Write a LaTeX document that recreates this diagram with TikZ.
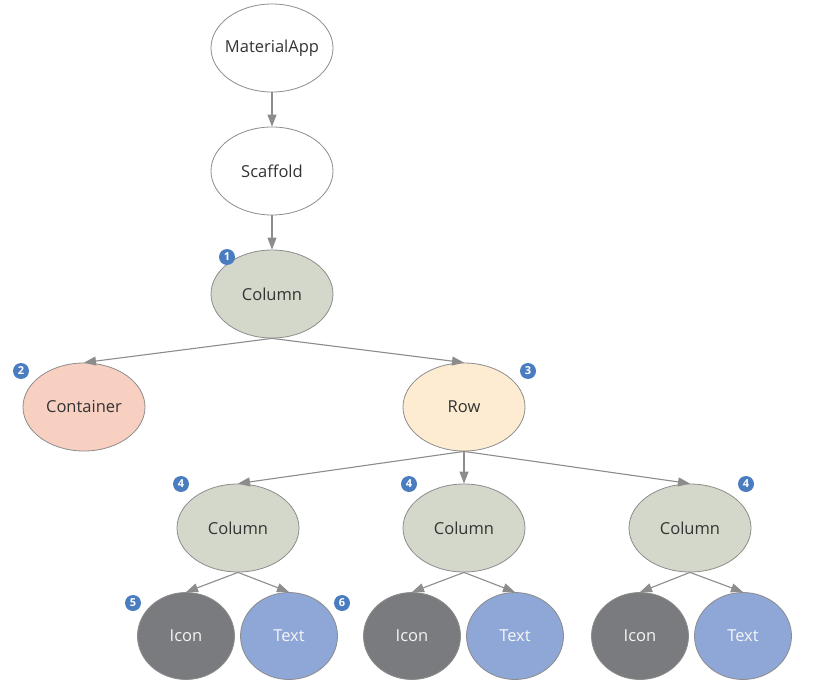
\documentclass[tikz,border=0pt]{standalone}
\usepackage{fontspec}
\setmainfont{Open Sans}
\usetikzlibrary{shapes.geometric,arrows.meta}
\definecolor{edgegray}{HTML}{8C8C8C}
\definecolor{colfill}{HTML}{D3D8CB}
\definecolor{contfill}{HTML}{F8D0C2}
\definecolor{rowfill}{HTML}{FDEBD2}
\definecolor{iconfill}{HTML}{7A7B7E}
\definecolor{textfill}{HTML}{8FA7D6}
\definecolor{badgeblue}{HTML}{4A7CC0}
\definecolor{labeldark}{HTML}{333333}
\tikzset{
  ell/.style={ellipse, draw=edgegray, line width=0.8pt, minimum width=122pt, minimum height=88pt, inner sep=0pt, font=\fontsize{16.5}{19}\selectfont, text=labeldark},
  small/.style={ellipse, draw=edgegray, line width=0.8pt, minimum width=97pt, minimum height=87pt, inner sep=0pt, font=\fontsize{16.5}{19}\selectfont, text=white!92!gray},
  arr/.style={draw=edgegray, line width=1.1pt, -{Triangle[length=12pt,width=9pt]}},
  badge/.style={circle, fill=badgeblue, minimum size=16pt, inner sep=0pt, text=white, font=\fontsize{11}{11}\selectfont\bfseries}
}
\begin{document}
\begin{tikzpicture}[x=1pt,y=-1pt]
\useasboundingbox (0,0) rectangle (817,685);
\node[ell, fill=white] (ma) at (272,48) {\makebox[60pt]{MaterialApp}};
\node[ell, fill=white] (sc) at (272,171) {Scaffold};
\node[ell, fill=colfill] (c1) at (272,294) {Column};
\node[ell, fill=contfill] (ct) at (84,407) {Container};
\node[ell, fill=rowfill] (rw) at (464,407) {Row};
\node[ell, fill=colfill] (ca) at (238,528) {Column};
\node[ell, fill=colfill] (cb) at (464,528) {Column};
\node[ell, fill=colfill] (cc) at (690,528) {Column};
\node[small, fill=iconfill] (ia) at (186,636) {Icon};
\node[small, fill=textfill] (ta) at (289,636) {Text};
\node[small, fill=iconfill] (ib) at (412,636) {Icon};
\node[small, fill=textfill] (tb) at (515,636) {Text};
\node[small, fill=iconfill] (ic) at (640,636) {Icon};
\node[small, fill=textfill] (tc) at (743,636) {Text};

\draw[arr] (ma.south) -- (sc.north);
\draw[arr] (sc.south) -- (c1.north);
\draw[arr] (c1.south) -- (ct.north);
\draw[arr] (c1.south) -- (rw.north);
\draw[arr] (rw.south) -- (ca.north);
\draw[arr] (rw.south) -- (cb.north);
\draw[arr] (rw.south) -- (cc.north);
\draw[arr] (ca.south) -- (ia.north);
\draw[arr] (ca.south) -- (ta.north);
\draw[arr] (cb.south) -- (ib.north);
\draw[arr] (cb.south) -- (tb.north);
\draw[arr] (cc.south) -- (ic.north);
\draw[arr] (cc.south) -- (tc.north);

\node[badge] (b1) at (227,257) {1};
\node[badge] (b2) at (21,371) {2};
\node[badge] (b3) at (528,371) {3};
\node[badge] (b4a) at (181,484) {4};
\node[badge] (b4b) at (409,484) {4};
\node[badge] (b4c) at (746,484) {4};
\node[badge] (b5) at (133,603) {5};
\node[badge] (b6) at (342,603) {6};
\end{tikzpicture}
\end{document}
